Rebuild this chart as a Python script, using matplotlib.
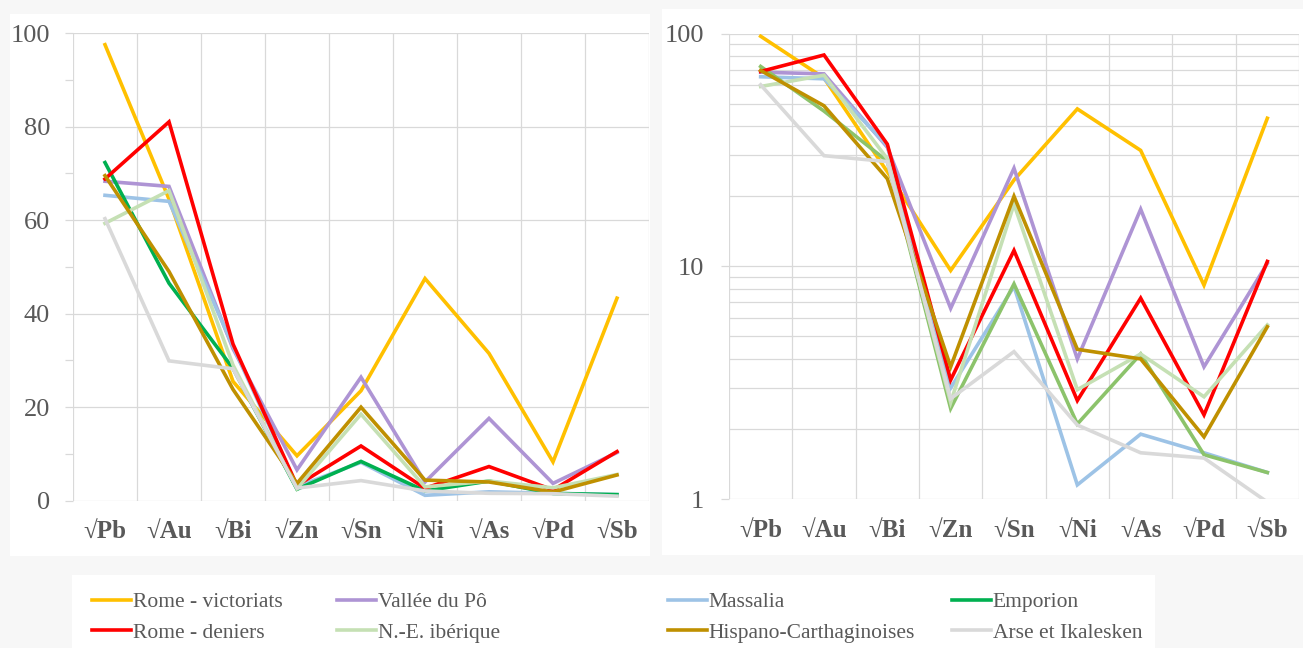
import numpy as np
import matplotlib.pyplot as plt
from matplotlib.patches import Rectangle
from matplotlib.ticker import MultipleLocator, NullFormatter

plt.rcParams['font.family'] = ['Liberation Serif', 'DejaVu Serif']

# Données (racines carrées des teneurs)
elements = ['√Pb', '√Au', '√Bi', '√Zn', '√Sn', '√Ni', '√As', '√Pd', '√Sb']

rome_victoriats = [97.5, 64.5, 25.5, 9.6, 23.5, 47.5, 31.5, 8.3, 43.3]
vallee_po = [68.3, 67.2, 32.5, 6.6, 26.4, 4.0, 17.6, 3.7, 10.3]
massalia = [65.3, 64.0, 33.0, 3.0, 8.2, 1.15, 1.9, 1.58, 1.3]
emporion = [72.3, 46.5, 28.3, 2.45, 8.4, 2.1, 4.2, 1.55, 1.3]
rome_deniers = [68.8, 81.0, 33.5, 3.25, 11.7, 2.65, 7.3, 2.3, 10.5]
ne_iberique = [59.3, 66.3, 29.0, 2.6, 18.5, 2.95, 4.2, 2.75, 5.6]
hispano_carth = [69.5, 49.0, 23.8, 3.7, 20.0, 4.4, 4.0, 1.85, 5.5]
arse_ikalesken = [60.3, 29.9, 28.2, 2.7, 4.3, 2.08, 1.58, 1.5, 0.97]

series = [
    ('Rome - victoriats', rome_victoriats, '#FFC000', '#FFC000'),
    ('Vallée du Pô', vallee_po, '#AE94D4', '#AE94D4'),
    ('Massalia', massalia, '#9DC3E6', '#9DC3E6'),
    ('Emporion', emporion, '#00B050', '#8CC36B'),
    ('Rome - deniers', rome_deniers, '#FF0000', '#FF0000'),
    ('N.-E. ibérique', ne_iberique, '#C5E0B4', '#C5E0B4'),
    ('Hispano-Carthaginoises', hispano_carth, '#BF9000', '#BF9000'),
    ('Arse et Ikalesken', arse_ikalesken, '#D9D9D9', '#D9D9D9'),
]

W, H = 1303, 648
grid_col = '#D9D9D9'
txt_col = '#595959'

fig = plt.figure(figsize=(W / 100, H / 100), dpi=100, facecolor='#F7F7F7')

# panneaux blancs
fig.add_artist(Rectangle((10 / W, 1 - 556 / H), 640 / W, 542 / H, transform=fig.transFigure,
                         facecolor='white', edgecolor='none', zorder=0))
fig.add_artist(Rectangle((662 / W, 1 - 555 / H), 641 / W, 546 / H, transform=fig.transFigure,
                         facecolor='white', edgecolor='none', zorder=0))
fig.add_artist(Rectangle((72 / W, 0), 1083 / W, 73 / H, transform=fig.transFigure,
                         facecolor='white', edgecolor='none', zorder=0))

ax1 = fig.add_axes([73 / W, 1 - 500.7 / H, 576 / W, 467.7 / H])
ax2 = fig.add_axes([729 / W, 1 - 499 / H, 570 / W, 465.3 / H])

x = np.arange(len(elements))
handles = {}
for name, vals, c1, c2 in series:
    l, = ax1.plot(x, vals, color=c1, lw=2.6, solid_joinstyle='miter', label=name)
    ax2.plot(x, vals, color=c2, lw=2.6, solid_joinstyle='miter')
    handles[name] = l

for ax in (ax1, ax2):
    ax.set_xlim(-0.5, 8.5)
    ax.set_xticks(x)
    ax.set_xticklabels(elements, fontweight='bold', fontsize=18, color=txt_col)
    ax.set_xticks(np.arange(-0.5, 9, 1), minor=True)
    ax.tick_params(axis='x', which='both', length=0, pad=14)
    ax.grid(axis='x', which='minor', color=grid_col, lw=0.9)
    for s in ax.spines.values():
        s.set_visible(False)
    ax.set_axisbelow(True)

# graphique linéaire
ax1.set_ylim(0, 100)
ax1.set_yticks(range(0, 101, 20))
ax1.yaxis.set_minor_locator(MultipleLocator(10))
ax1.grid(axis='y', which='major', color=grid_col, lw=0.9)
ax1.tick_params(axis='y', which='both', length=5.5, width=0.9, color=grid_col,
                labelsize=19, labelcolor=txt_col, pad=11)

# graphique logarithmique
ax2.set_yscale('log')
ax2.set_ylim(1, 100)
ax2.set_yticks([1, 10, 100], labels=['1', '10', '100'])
ax2.yaxis.set_minor_formatter(NullFormatter())
ax2.grid(axis='y', which='both', color=grid_col, lw=0.9)
ax2.tick_params(axis='y', which='major', length=6, width=0.9, color=grid_col,
                labelsize=19, labelcolor=txt_col, pad=12)
ax2.tick_params(axis='y', which='minor', length=0)

# légende en quatre colonnes
columns = [
    (92, ['Rome - victoriats', 'Rome - deniers']),
    (337, ['Vallée du Pô', 'N.-E. ibérique']),
    (668, ['Massalia', 'Hispano-Carthaginoises']),
    (952, ['Emporion', 'Arse et Ikalesken']),
]
for x0, names in columns:
    fig.legend([handles[n] for n in names], names, loc='upper left',
               bbox_to_anchor=(x0 / W, 1 - 592 / H), frameon=False,
               borderpad=0, borderaxespad=0, handlelength=1.8, handletextpad=0.1,
               labelspacing=0.5, fontsize=15.5, labelcolor=txt_col)

fig.savefig('out.png', dpi=100, facecolor=fig.get_facecolor())
